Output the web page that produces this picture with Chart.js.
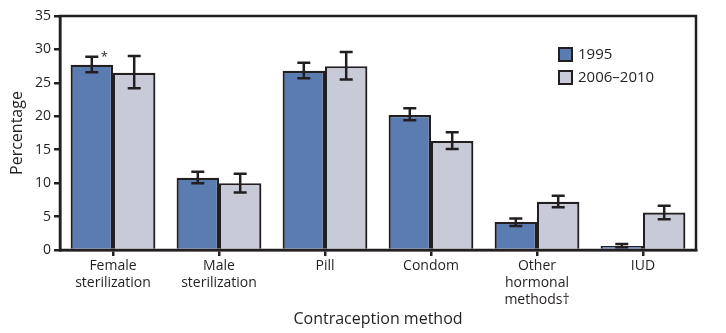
<!DOCTYPE html>
<html>
<head>
<meta charset="utf-8">
<style>
  html, body { margin: 0; padding: 0; background: #fff; }
  #wrap { width: 726px; height: 333px; position: relative; }
</style>
<script src="https://cdn.jsdelivr.net/npm/chart.js@4"></script>
</head>
<body>
<div id="wrap"><canvas id="chart" width="726" height="333"></canvas></div>
<script>
// Contraception method use, 1995 vs 2006-2010
const categories = [
  ['Female', 'sterilization'],
  ['Male', 'sterilization'],
  'Pill',
  'Condom',
  ['Other', 'hormonal', 'methods\u2020'],
  'IUD'
];
const seriesNames = ['1995', '2006\u20132010'];
const values1995 = [27.7, 10.8, 26.8, 20.2, 4.2, 0.6];
const low1995 = [26.6, 10.0, 25.7, 19.4, 3.6, 0.4];
const high1995 = [28.9, 11.7, 28.0, 21.2, 4.7, 0.9];
const values2006 = [26.5, 10.0, 27.5, 16.3, 7.2, 5.6];
const low2006 = [24.2, 8.6, 25.5, 15.1, 6.4, 4.6];
const high2006 = [29.0, 11.4, 29.6, 17.6, 8.1, 6.6];
const yTicks = [0, 5, 10, 15, 20, 25, 30, 35];

const INK = '#231f20';
const FONT = "'Open Sans', 'Noto Sans', sans-serif";

const errorBars = {
  id: 'errorBars',
  afterDatasetsDraw(chart) {
    const ctx = chart.ctx;
    const y = chart.scales.y;
    const ranges = [[low1995, high1995], [low2006, high2006]];
    ctx.save();
    ctx.strokeStyle = INK;
    ctx.lineWidth = 2.5;
    chart.data.datasets.forEach((ds, di) => {
      const meta = chart.getDatasetMeta(di);
      meta.data.forEach((bar, i) => {
        const x = bar.x;
        const y1 = y.getPixelForValue(ranges[di][0][i]);
        const y2 = y.getPixelForValue(ranges[di][1][i]);
        ctx.beginPath();
        ctx.moveTo(x, y1); ctx.lineTo(x, y2);
        ctx.moveTo(x - 6.5, y1); ctx.lineTo(x + 6.5, y1);
        ctx.moveTo(x - 6.5, y2); ctx.lineTo(x + 6.5, y2);
        ctx.stroke();
      });
    });
    // significance marker
    const b = chart.getDatasetMeta(0).data[0];
    ctx.fillStyle = INK;
    ctx.font = '13px ' + FONT;
    ctx.textAlign = 'left';
    ctx.fillText('*', b.x + 9, y.getPixelForValue(high1995[0]) + 4);
    ctx.restore();
  }
};

const frame = {
  id: 'frame',
  afterDraw(chart) {
    const a = chart.chartArea;
    const ctx = chart.ctx;
    ctx.save();
    ctx.strokeStyle = INK;
    ctx.lineWidth = 2.5;
    ctx.strokeRect(a.left, a.top, a.right - a.left, a.bottom - a.top);
    // legend
    const items = chart.data.datasets;
    ctx.font = '15px ' + FONT;
    ctx.textBaseline = 'middle';
    items.forEach((ds, i) => {
      const lx = 559, ly = 48 + i * 23;
      ctx.fillStyle = ds.backgroundColor;
      ctx.fillRect(lx, ly, 13, 13);
      ctx.lineWidth = 2;
      ctx.strokeRect(lx, ly, 13, 13);
      ctx.fillStyle = INK;
      ctx.fillText(ds.label, lx + 19, ly + 7);
    });
    ctx.restore();
  }
};

new Chart(document.getElementById('chart'), {
  type: 'bar',
  data: {
    labels: categories,
    datasets: [
      { label: seriesNames[0], data: values1995, backgroundColor: '#5b7cb1', borderColor: INK, borderWidth: 2.2, borderSkipped: 'bottom' },
      { label: seriesNames[1], data: values2006, backgroundColor: '#c8cad7', borderColor: INK, borderWidth: 2.2, borderSkipped: 'bottom' }
    ]
  },
  options: {
    responsive: false,
    animation: false,
    layout: { padding: { top: 16, right: 30, left: 0, bottom: 0 } },
    datasets: { bar: { categoryPercentage: 0.8, barPercentage: 1.0 } },
    plugins: { legend: { display: false }, tooltip: { enabled: false } },
    scales: {
      x: {
        grid: { display: true, drawOnChartArea: false, drawTicks: true, tickLength: 6, color: INK, lineWidth: 2.5, offset: false },
        border: { display: true, color: INK, width: 2.5 },
        ticks: { color: INK, font: { family: FONT, size: 14 }, padding: 2, maxRotation: 0, autoSkip: false },
        title: { display: true, text: 'Contraception method', color: INK, font: { family: FONT, size: 16 }, padding: { top: 0 } },
        afterFit(s) { s.height = 83; }
      },
      y: {
        min: 0, max: 35,
        afterBuildTicks(s) { s.ticks = yTicks.map(v => ({ value: v })); },
        grid: { display: true, drawOnChartArea: false, drawTicks: true, tickLength: 6, color: INK, lineWidth: 2.5 },
        border: { display: true, color: INK, width: 2.5 },
        ticks: { color: INK, font: { family: FONT, size: 14 }, padding: 3 },
        title: { display: true, text: 'Percentage', color: INK, font: { family: FONT, size: 16 }, padding: { top: 8, bottom: 0 } },
        afterFit(s) { s.width = 60; }
      }
    }
  },
  plugins: [errorBars, frame]
});
</script>
</body>
</html>
